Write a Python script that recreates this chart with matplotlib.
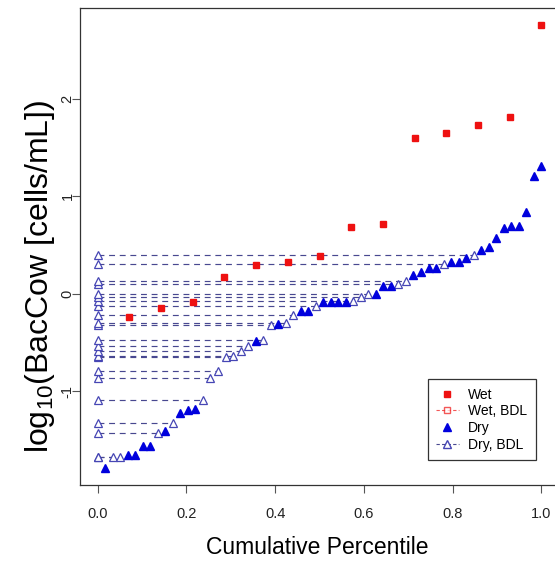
import numpy as np
import matplotlib
matplotlib.use("Agg")
import matplotlib.pyplot as plt
from matplotlib.lines import Line2D

plt.rcParams['font.family'] = ['Liberation Sans', 'DejaVu Sans']
plt.rcParams['mathtext.fontset'] = 'custom'
plt.rcParams['mathtext.rm'] = 'Liberation Sans'

# log10 BacCow, sorted, wet season (all detected)
wet_values = [-0.24, -0.15, -0.08, 0.17, 0.30, 0.33, 0.39,
              0.68, 0.72, 1.60, 1.65, 1.73, 1.81, 2.76]

# dry season, sorted; 1 = below detection limit
dry_values = [-1.79, -1.67, -1.67, -1.65, -1.65, -1.56, -1.56, -1.43, -1.41, -1.32,
              -1.22, -1.19, -1.18, -1.09, -0.86, -0.79, -0.65, -0.64, -0.59, -0.54,
              -0.48, -0.47, -0.32, -0.31, -0.30, -0.22, -0.18, -0.18, -0.13, -0.08,
              -0.08, -0.08, -0.08, -0.07, -0.03, 0.00, 0.00, 0.075, 0.075, 0.10,
              0.13, 0.19, 0.22, 0.26, 0.26, 0.31, 0.33, 0.33, 0.37, 0.40,
              0.45, 0.48, 0.57, 0.67, 0.70, 0.70, 0.84, 1.21, 1.31]
dry_bdl = [0, 1, 1, 0, 0, 0, 0, 1, 0, 1,
           0, 0, 0, 1, 1, 1, 1, 1, 1, 1,
           0, 1, 1, 0, 1, 1, 0, 0, 1, 0,
           0, 0, 0, 1, 1, 1, 0, 0, 0, 1,
           1, 0, 0, 0, 0, 1, 0, 0, 0, 1,
           0, 0, 0, 0, 0, 0, 0, 0, 0]

xticks = [0.0, 0.2, 0.4, 0.6, 0.8, 1.0]
yticks = [-1, 0, 1, 2]

RED = "#ee1111"
BLUE = "#0000dd"
BDL_EDGE = "#4646b4"
BDL_LINE = "#484890"

wet = np.array(wet_values)
dry = np.array(dry_values)
bdl = np.array(dry_bdl, dtype=bool)
wet_pct = np.arange(1, len(wet) + 1) / len(wet)
dry_pct = np.arange(1, len(dry) + 1) / len(dry)

W, H = 555, 565
fig = plt.figure(figsize=(W / 100, H / 100), dpi=100)
ax = fig.add_axes([80 / W, 80 / H, 479 / W, 477 / H])

# BDL dashed segments from 0 to the plotting position
for p, v in zip(dry_pct[bdl], dry[bdl]):
    ax.plot([0, p], [v, v], color=BDL_LINE, lw=0.85, ls=(0, (5, 4)), zorder=1)
ax.plot(np.zeros(bdl.sum()), dry[bdl], ls='none', marker='^', ms=6,
        mfc='white', mec=BDL_EDGE, mew=0.9, zorder=2)
ax.plot(dry_pct[bdl], dry[bdl], ls='none', marker='^', ms=6,
        mfc='white', mec=BDL_EDGE, mew=0.9, zorder=3)
ax.plot(dry_pct[~bdl], dry[~bdl], ls='none', marker='^', ms=6,
        color=BLUE, mec=BLUE, zorder=3)
ax.plot(wet_pct, wet, ls='none', marker='s', ms=4.6, color=RED, mec=RED, zorder=3)

ax.set_xlim(-0.04, 1.04)
ax.set_ylim(-1.96, 2.93)
ax.set_xticks(xticks)
ax.set_xticklabels([f"{t:.1f}" for t in xticks])
ax.set_yticks(yticks)
ax.set_yticklabels([str(t) for t in yticks])
ax.tick_params(axis='both', length=5.5, width=0.8, color='#555555',
               labelsize=10.5, labelcolor='#222222')
ax.tick_params(axis='x', pad=10)
ax.tick_params(axis='y', pad=-1.5, labelrotation=90)
for lab in ax.get_yticklabels():
    lab.set_va('center')
for s in ax.spines.values():
    s.set_linewidth(0.9)
    s.set_color('#333333')

handles = [
    Line2D([], [], ls='none', marker='s', ms=4.6, color=RED),
    Line2D([], [], ls=(0, (3, 2)), lw=0.8, color=RED, marker='s', ms=5,
           mfc='white', mec=RED, alpha=0.7),
    Line2D([], [], ls='none', marker='^', ms=6, color=BLUE),
    Line2D([], [], ls=(0, (3, 2)), lw=0.8, color=BDL_LINE, marker='^', ms=6,
           mfc='white', mec=BDL_EDGE),
]
labels = ["Wet", "Wet, BDL", "Dry", "Dry, BDL"]
leg = ax.legend(handles, labels, loc='lower left', bbox_to_anchor=(0.7265, 0.052),
                borderaxespad=0, fontsize=10, frameon=True, fancybox=False,
                handlelength=1.6, handletextpad=0.7, labelspacing=0.2,
                borderpad=0.6, edgecolor='black')
leg.get_frame().set_linewidth(0.9)

fig.text(40 / W, 1 - 276 / H, r'log$_{\mathrm{10}}$(BacCow [cells/mL])',
         rotation=90, fontsize=23, ha='center', va='center')
fig.text(317 / W, 1 - 548 / H, 'Cumulative Percentile', fontsize=16.5,
         ha='center', va='center')

fig.savefig("out.png", dpi=100)
